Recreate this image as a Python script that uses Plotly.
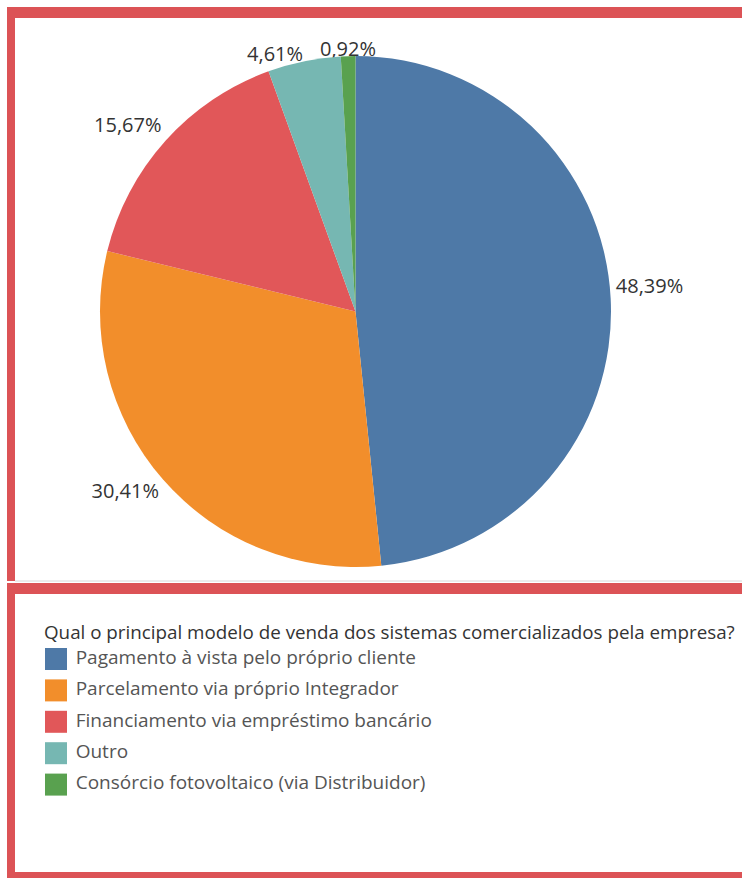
import plotly.graph_objects as go

# Survey answers and their shares (%)
categories = [
    "Pagamento à vista pelo próprio cliente",
    "Parcelamento via próprio Integrador",
    "Financiamento via empréstimo bancário",
    "Outro",
    "Consórcio fotovoltaico (via Distribuidor)",
]
shares = [48.39, 30.41, 15.67, 4.61, 0.92]
colors = ["#4E79A7", "#F28E2B", "#E15759", "#76B7B2", "#59A14F"]
legend_title = "Qual o principal modelo de venda dos sistemas comercializados pela empresa?"

W, H = 742, 878
FONT = "Open Sans"
BORDER = "#DC5356"


def px_x(x):
    return x / W


def px_y(y):
    return 1 - y / H


# Pie centre and radius in pixels
CX, CY, R = 355.5, 311.5, 255.5
pie_dom = dict(x=[px_x(CX - R), px_x(CX + R)], y=[px_y(CY + R), px_y(CY - R)])

# Polar frame sharing the pie's centre; its radial axis runs past the rim
R_MAX = 1.1
pol_dom = dict(x=[px_x(CX - R * R_MAX), px_x(CX + R * R_MAX)],
               y=[px_y(CY + R * R_MAX), px_y(CY - R * R_MAX)])

fig = go.Figure()

fig.add_trace(go.Pie(
    labels=categories,
    values=shares,
    marker=dict(colors=colors, line=dict(width=0)),
    sort=False,
    direction="clockwise",
    rotation=0,
    textinfo="none",
    hoverinfo="skip",
    showlegend=False,
    automargin=False,
    domain=pie_dom,
))

# Value labels: placed at each slice's mid-angle, just outside the rim
mid_angles = []
cum = 0.0
for s in shares:
    mid_angles.append((cum + s / 2) / sum(shares) * 360)
    cum += s

fig.add_trace(go.Scatterpolar(
    r=[1.02] * len(shares),
    theta=mid_angles,
    mode="text",
    text=[f"{v:.2f}%".replace(".", ",") for v in shares],
    textposition=["top right", "bottom left", "top left", "middle left", "middle center"],
    textfont=dict(family=FONT, size=20, color="#333333"),
    hoverinfo="skip",
    showlegend=False,
    cliponaxis=False,
    subplot="polar",
))

# Legend block drawn as a categorical scatter: one square swatch per answer
fig.add_trace(go.Scatter(
    x=[0] * len(categories),
    y=categories,
    mode="markers+text",
    marker=dict(symbol="square", size=22, color=colors, line=dict(width=0)),
    text=[" " + c for c in categories],
    textposition="middle right",
    textfont=dict(family=FONT, size=19, color="#555555"),
    hoverinfo="skip",
    showlegend=False,
    cliponaxis=False,
))

row = 31.4
top = 659 - row / 2
bottom = top + row * len(categories)
fig.update_xaxes(visible=False, range=[-56, W - 56], domain=[0, 1], fixedrange=True)
fig.update_yaxes(
    visible=False,
    type="category",
    categoryorder="array",
    categoryarray=categories,
    range=[len(categories) - 0.5, -0.5],
    domain=[px_y(bottom), px_y(top)],
    fixedrange=True,
)

# Panel frames
frames = [
    (7, 7, W, 18),      # top edge, chart panel
    (7, 7, 15, 581),    # left edge, chart panel
    (7, 583, W, 594),   # top edge, legend panel
    (7, 583, 15, H),    # left edge, legend panel
    (7, 872, W, H),     # bottom edge, legend panel
]
shapes = [
    dict(type="line", xref="paper", yref="paper",
         x0=px_x(15), x1=1, y0=px_y(581), y1=px_y(581),
         line=dict(color="#D8D8D8", width=1)),
]
for x0, y0, x1, y1 in frames:
    shapes.append(dict(
        type="rect", xref="paper", yref="paper",
        x0=px_x(x0), x1=px_x(x1), y0=px_y(y1), y1=px_y(y0),
        fillcolor=BORDER, line=dict(width=0), layer="above",
    ))

fig.update_layout(
    width=W,
    height=H,
    margin=dict(l=0, r=0, t=0, b=0, autoexpand=False),
    paper_bgcolor="white",
    plot_bgcolor="white",
    polar=dict(
        domain=pol_dom,
        bgcolor="rgba(0,0,0,0)",
        radialaxis=dict(range=[0, R_MAX], visible=False, showgrid=False, showline=False),
        angularaxis=dict(rotation=90, direction="clockwise", visible=False,
                         showgrid=False, showline=False),
    ),
    shapes=shapes,
    annotations=[dict(
        text=legend_title,
        xref="paper", yref="paper",
        x=px_x(42), y=px_y(632),
        xanchor="left", yanchor="middle",
        showarrow=False,
        font=dict(family=FONT, size=18.8, color="#333333"),
    )],
)

fig.write_html("out.html")
